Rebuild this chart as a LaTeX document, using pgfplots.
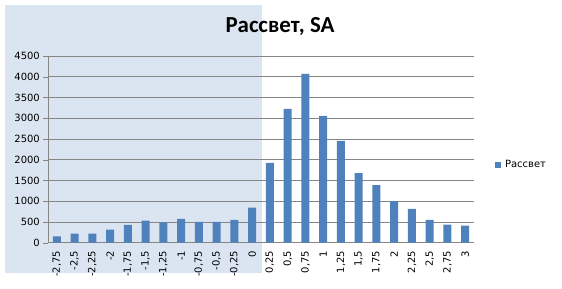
\documentclass[border=0pt]{standalone}
\usepackage{pgfplots}
\pgfplotsset{compat=1.18}
\usepackage{fontspec}
\setmainfont{DejaVu Sans}
\newfontfamily\titlefont{Carlito}
\definecolor{barblue}{HTML}{4F81BD}
\definecolor{shadeblue}{HTML}{DBE5F1}
\definecolor{gridgray}{HTML}{868686}

\pgfplotstableread{
idx value
0 150
1 220
2 220
3 315
4 430
5 530
6 490
7 575
8 500
9 500
10 550
11 845
12 1925
13 3225
14 4070
15 3055
16 2455
17 1680
18 1390
19 1000
20 815
21 550
22 435
23 410
}\rassvet

\begin{document}
\begin{tikzpicture}[x=1bp,y=1bp]
\useasboundingbox (0,0) rectangle (562,288);
% shaded band behind the negative values
\fill[shadeblue] (5,15) rectangle (262,283);
\begin{axis}[
  at={(48bp,45.3bp)}, anchor=south west,
  scale only axis, width=426bp, height=186.7bp,
  xmin=-0.5, xmax=23.5, ymin=0, ymax=4500,
  ytick={0,500,...,4500},
  xtick={0,...,23},
  xticklabels={{-2,75},{-2,5},{-2,25},{-2},{-1,75},{-1,5},{-1,25},{-1},{-0,75},{-0,5},{-0,25},{0},{0,25},{0,5},{0,75},{1},{1,25},{1,5},{1,75},{2},{2,25},{2,5},{2,75},{3}},
  x tick style={draw=none},
  extra x ticks={-0.5,0.5,...,23.5},
  extra x tick labels={},
  extra x tick style={major tick length=4bp, tick style={draw=gridgray}, grid=none},
  axis x line*=bottom, axis y line*=left,
  axis line style={draw=gridgray, line width=0.8pt},
  tick align=outside,
  ytick style={draw=gridgray},
  major tick length=5bp,
  ymajorgrids, grid style={draw=gridgray, line width=0.8pt},
  /pgf/number format/1000 sep={},
  /pgf/number format/assume math mode=true,
  y tick label style={font=\fontsize{10}{12}\selectfont, inner sep=0pt, xshift=-3bp},
  x tick label style={font=\fontsize{10}{12}\selectfont, yshift=-3bp, rotate=90, anchor=east, inner sep=0pt},
  ybar, bar width=8bp, bar shift=0pt,
  legend style={at={(1.049,0.416)}, anchor=west, draw=none, fill=none, inner sep=0pt,
    font=\fontsize{10}{12}\selectfont, nodes={inner sep=0pt}, column sep=4bp},
  legend image code/.code={\fill[barblue] (0bp,-3bp) rectangle (6bp,3bp);},
]
\addplot[fill=barblue, draw=none] table[x=idx, y=value] {\rassvet};
\addlegendentry{Рассвет}
\end{axis}
\node[font=\titlefont\bfseries\fontsize{23}{26}\selectfont, anchor=base] at (280,256) {Рассвет, SA};
\end{tikzpicture}
\end{document}
